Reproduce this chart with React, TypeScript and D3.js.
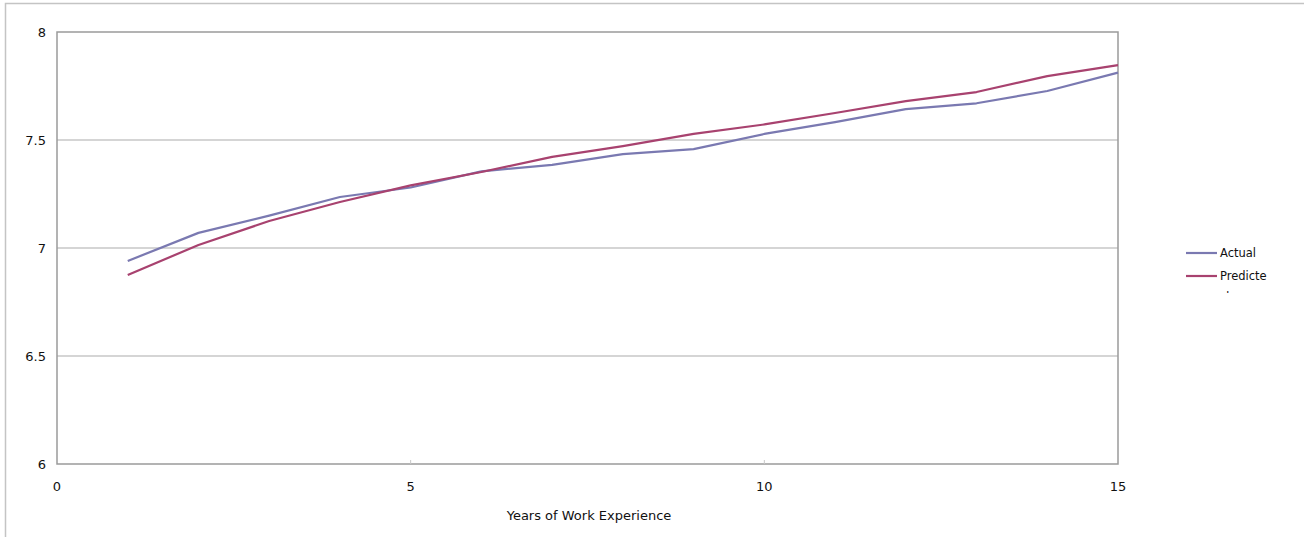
import { useEffect, useRef } from "react"
import * as d3 from "d3"

const years = [1, 2, 3, 4, 5, 6, 7, 8, 9, 10, 11, 12, 13, 14, 15]
const actual = [6.94, 7.07, 7.15, 7.236, 7.28, 7.355, 7.385, 7.435, 7.458, 7.528, 7.583, 7.643, 7.67, 7.727, 7.812]
const predicted = [6.875, 7.014, 7.125, 7.213, 7.29, 7.352, 7.422, 7.472, 7.528, 7.572, 7.625, 7.68, 7.722, 7.796, 7.847]
const xTicks = [0, 5, 10, 15]
const yTicks = [6, 6.5, 7, 7.5, 8]
const seriesNames = ["Actual", "Predicte"]

const W = 1304, H = 537
const FONT = "'DejaVu Sans', Verdana, sans-serif"
const colors = ["#7a79b1", "#a8426f"]

export default function App() {
  const ref = useRef<SVGSVGElement>(null)

  useEffect(() => {
    const svg = d3.select(ref.current!)
    svg.selectAll("*").remove()
    const x = d3.scaleLinear().domain([0, 15]).range([57, 1118])
    const y = d3.scaleLinear().domain([6, 8]).range([464, 32])

    // outer frame (top + left only visible)
    svg.append("path").attr("d", `M5.5,${H} V3.5 H${W}`).attr("fill", "none").attr("stroke", "#c4c4c4").attr("stroke-width", 1.5)

    // gridlines
    svg.append("g").selectAll("line").data(yTicks.slice(1, -1)).join("line")
      .attr("x1", x(0)).attr("x2", x(15)).attr("y1", d => y(d)).attr("y2", d => y(d))
      .attr("stroke", "#ababab").attr("stroke-width", 1)

    // plot border
    svg.append("rect").attr("x", x(0)).attr("y", y(8)).attr("width", x(15) - x(0)).attr("height", y(6) - y(8))
      .attr("fill", "none").attr("stroke", "#9a9a9a").attr("stroke-width", 1.5)

    // x tick marks
    svg.append("g").selectAll("line").data(xTicks.slice(1, -1)).join("line")
      .attr("x1", d => x(d)).attr("x2", d => x(d)).attr("y1", y(6)).attr("y2", y(6) - 4)
      .attr("stroke", "#c8c8c8")

    const txt = (g: d3.Selection<SVGSVGElement, unknown, null, undefined>) => g.append("text")
      .attr("font-family", FONT).attr("font-size", 13).attr("fill", "#111")

    yTicks.forEach(t => txt(svg).attr("x", 46).attr("y", y(t)).attr("dy", "0.35em").attr("text-anchor", "end").text(d3.format("~g")(t)))
    xTicks.forEach(t => txt(svg).attr("x", x(t)).attr("y", 491).attr("text-anchor", "middle").text(String(t)))
    txt(svg).attr("x", 589).attr("y", 520).attr("text-anchor", "middle").text("Years of Work Experience")

    const line = d3.line<number>().x((_, i) => x(years[i])).y(d => y(d))
    ;[actual, predicted].forEach((s, k) => {
      svg.append("path").attr("d", line(s) || "").attr("fill", "none")
        .attr("stroke", colors[k]).attr("stroke-width", 2.2).attr("stroke-linejoin", "round")
    })

    // legend
    seriesNames.forEach((n, k) => {
      const ly = 253 + k * 23
      svg.append("line").attr("x1", 1186).attr("x2", 1217).attr("y1", ly).attr("y2", ly)
        .attr("stroke", colors[k]).attr("stroke-width", 2.2)
      txt(svg).attr("x", 1220).attr("y", ly).attr("dy", "0.35em").attr("font-size", 11.5).text(n)
    })
    // wrapped last letter, clipped by legend box
    const clip = svg.append("clipPath").attr("id", "legclip")
    clip.append("rect").attr("x", 1150).attr("y", 200).attr("width", 150).attr("height", 93)
    txt(svg).attr("clip-path", "url(#legclip)").attr("x", 1222).attr("y", 301).attr("font-size", 11.5).text("d")
  }, [])

  return (
    <svg ref={ref} width={W} height={H} viewBox={`0 0 ${W} ${H}`}
      style={{ position: "absolute", left: 0, top: 0, background: "#fff" }} />
  )
}
